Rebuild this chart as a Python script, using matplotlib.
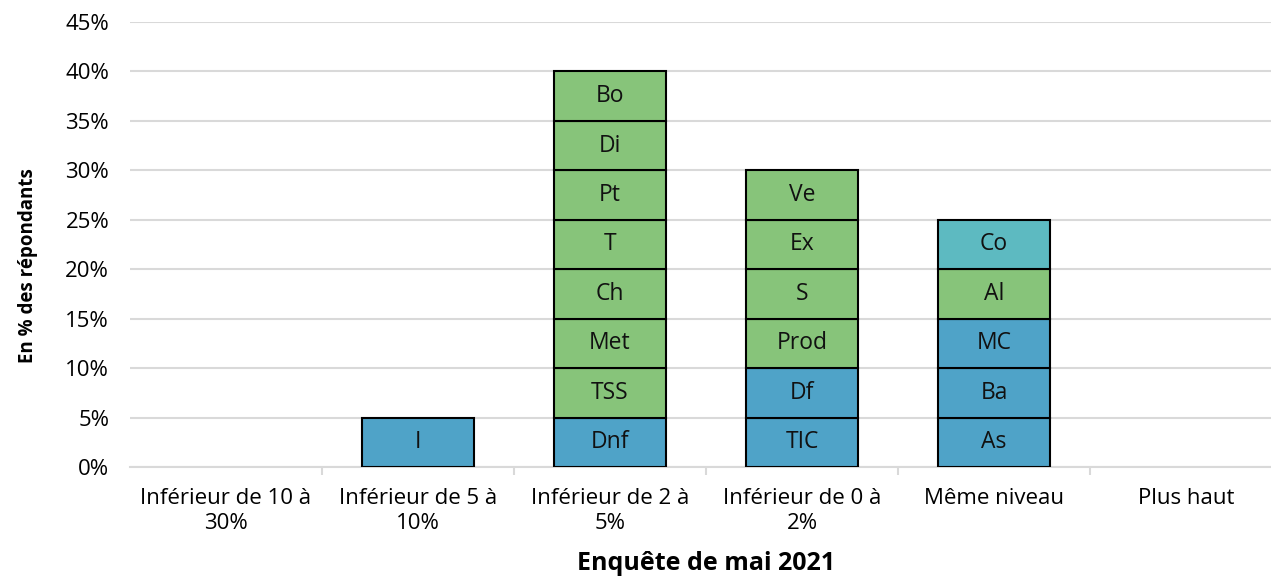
import numpy as np
import matplotlib
matplotlib.use("Agg")
import matplotlib.pyplot as plt

plt.rcParams["font.family"] = ["Open Sans", "DejaVu Sans"]

categories = [
    "Inférieur de 10 à\n30%",
    "Inférieur de 5 à\n10%",
    "Inférieur de 2 à\n5%",
    "Inférieur de 0 à\n2%",
    "Même niveau",
    "Plus haut",
]

# stacked segments per category, bottom to top: (label, value, group)
stacks = [
    [],
    [("I", 5, "b")],
    [("Dnf", 5, "b"), ("TSS", 5, "g"), ("Met", 5, "g"), ("Ch", 5, "g"),
     ("T", 5, "g"), ("Pt", 5, "g"), ("Di", 5, "g"), ("Bo", 5, "g")],
    [("TIC", 5, "b"), ("Df", 5, "b"), ("Prod", 5, "g"), ("S", 5, "g"),
     ("Ex", 5, "g"), ("Ve", 5, "g")],
    [("As", 5, "b"), ("Ba", 5, "b"), ("MC", 5, "b"), ("Al", 5, "g"),
     ("Co", 5, "t")],
    [],
]

colors = {"b": "#4fa3c8", "g": "#87c47a", "t": "#5dbac1"}

fig = plt.figure(figsize=(12.71, 5.8), dpi=100)
ax = fig.add_axes([130 / 1271, 113 / 580, 1152 / 1271, 445 / 580])

x = np.arange(len(categories))
for i, stack in enumerate(stacks):
    bottom = 0
    for label, val, grp in stack:
        ax.bar(x[i], val, bottom=bottom, width=0.58, color=colors[grp],
               edgecolor="black", linewidth=1.5, zorder=3)
        ax.text(x[i], bottom + val / 2, label, ha="center", va="center",
                fontsize=16.5, color="#111111", zorder=4)
        bottom += val

ax.set_xlim(-0.5, len(categories) - 0.5)
ax.set_ylim(0, 45)
ax.set_yticks(np.arange(0, 46, 5))
ax.set_yticklabels([f"{v}%" for v in range(0, 46, 5)], fontsize=16)
ax.yaxis.grid(True, color="#d9d9d9", linewidth=1.5, zorder=0)
ax.tick_params(axis="y", length=0, pad=15)

ax.set_xticks(x)
ax.set_xticklabels(categories, fontsize=16, linespacing=1.25)
ax.tick_params(axis="x", length=0, pad=15)
ax.set_xticks(np.arange(0.5, len(categories) - 0.5, 1), minor=True)
ax.tick_params(axis="x", which="minor", length=6, color="#d9d9d9", width=1.5)

for s in ["top", "right", "left"]:
    ax.spines[s].set_visible(False)
ax.spines["bottom"].set_color("#d9d9d9")
ax.spines["bottom"].set_linewidth(1.5)

ax.set_ylabel("En % des répondants", fontsize=13.5, fontweight="bold")
ax.yaxis.set_label_coords(-0.080, 0.452)
ax.set_xlabel("Enquête de mai 2021", fontsize=18, fontweight="bold", labelpad=12)

fig.savefig("out.png", dpi=100)
